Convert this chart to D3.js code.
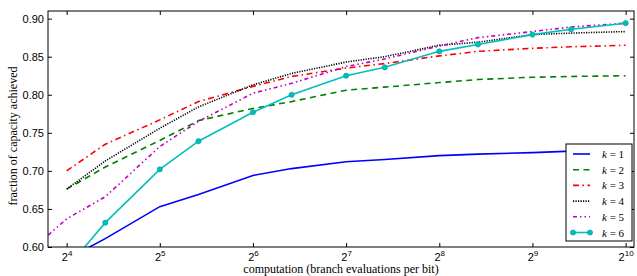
<!DOCTYPE html>
<html>
<head>
<meta charset="utf-8">
<script src="https://cdn.jsdelivr.net/npm/d3@7"></script>
<style>
  body { margin: 0; background: #fff; }
  svg { display: block; font-family: "Liberation Serif", "DejaVu Serif", serif; }
</style>
</head>
<body>
<svg id="chart"></svg>
<script>
/**
 * Data.
 * x = computation (branch evaluations per bit), y = fraction of capacity.
 */
var xValues = [10.67, 16, 21.33, 32, 42.67, 64, 85.33, 128, 170.67, 256, 341.33, 512, 682.67, 1024];
var k1 = [null, 0.584, 0.611, 0.653, 0.669, 0.694, 0.703, 0.712, 0.715, 0.720, 0.722, 0.724, 0.726, 0.728];
var k2 = [null, 0.676, 0.705, 0.740, 0.766, 0.782, 0.791, 0.806, 0.810, 0.816, 0.820, 0.823, 0.824, 0.825];
var k3 = [null, 0.700, 0.735, 0.767, 0.791, 0.811, 0.824, 0.835, 0.841, 0.851, 0.857, 0.861, 0.863, 0.865];
var k4 = [null, 0.676, 0.713, 0.756, 0.784, 0.813, 0.828, 0.843, 0.850, 0.865, 0.869, 0.879, 0.881, 0.883];
var k5 = [0.574, 0.637, 0.666, 0.732, 0.765, 0.802, 0.815, 0.837, 0.847, 0.864, 0.875, 0.883, 0.889, 0.894];
var k6 = [null, 0.572, 0.632, 0.702, 0.739, 0.777, 0.800, 0.825, 0.836, 0.857, 0.866, 0.879, 0.886, 0.894];
var seriesLabels = ["1", "2", "3", "4", "5", "6"];
var xTicks = [16, 32, 64, 128, 256, 512, 1024];
var xTickExponents = ["4", "5", "6", "7", "8", "9", "10"];
var yTicks = [0.60, 0.65, 0.70, 0.75, 0.80, 0.85, 0.90];

var series = [
    {label: seriesLabels[0], values: k1, color: "#0000ff", dash: null, marker: false},
    {label: seriesLabels[1], values: k2, color: "#008000", dash: "6,4.5", marker: false},
    {label: seriesLabels[2], values: k3, color: "#ff0000", dash: "6,3.5,1.5,3.5", marker: false},
    {label: seriesLabels[3], values: k4, color: "#000000", dash: "1.2,1.3", marker: false},
    {label: seriesLabels[4], values: k5, color: "#bf00bf", dash: "4,3,1.5,3,1.5,3", marker: false},
    {label: seriesLabels[5], values: k6, color: "#00bfbf", dash: null, marker: true}
];

var w = 637;
var h = 276;
var margin = {top: 11, right: 3, bottom: 29, left: 48};
var width = w - margin.left - margin.right;
var height = h - margin.top - margin.bottom;

var svg = d3.select("#chart").attr("width", w).attr("height", h);
var g = svg.append("g")
    .attr("transform", "translate(" + margin.left + "," + margin.top + ")");

var x = d3.scaleLog().base(2)
    .domain([Math.pow(2, 3.8), Math.pow(2, 10.09)])
    .range([0, width]);
var y = d3.scaleLinear()
    .domain([0.6, 0.91])
    .range([height, 0]);

g.append("clipPath").attr("id", "clip")
    .append("rect").attr("width", width).attr("height", height);

// Lines
var line = d3.line()
    .defined(function(d) { return d[1] !== null; })
    .x(function(d) { return x(d[0]); })
    .y(function(d) { return y(d[1]); });

var plot = g.append("g").attr("clip-path", "url(#clip)");
series.forEach(function(s) {
    var pts = xValues.map(function(xv, i) { return [xv, s.values[i]]; });
    plot.append("path")
        .datum(pts)
        .attr("fill", "none")
        .attr("stroke", s.color)
        .attr("stroke-width", 1.6)
        .attr("stroke-dasharray", s.dash)
        .attr("d", line);
    if (s.marker) {
        plot.selectAll(null)
            .data(pts.filter(function(d) { return d[1] !== null; }))
            .enter().append("circle")
            .attr("cx", function(d) { return x(d[0]); })
            .attr("cy", function(d) { return y(d[1]); })
            .attr("r", 2.6)
            .attr("fill", s.color)
            .attr("stroke", "#009a9a")
            .attr("stroke-width", 0.6);
    }
});

// Axes: ticks point inward on all four sides
var styleAxis = function(sel) {
    sel.select(".domain").remove();
    sel.selectAll(".tick line").attr("stroke", "#000").attr("stroke-width", 1);
};

var xAxis = g.append("g")
    .attr("transform", "translate(0," + height + ")")
    .call(d3.axisBottom(x).tickValues(xTicks).tickSize(-4).tickPadding(7).tickFormat(""))
    .call(styleAxis);

xAxis.selectAll(".tick text").each(function(d, i) {
    var t = d3.select(this)
        .attr("fill", "#000")
        .attr("font-size", 11)
        .attr("y", 14)
        .attr("dy", 0)
        .attr("text-anchor", "middle");
    t.append("tspan").text("2");
    t.append("tspan").attr("dy", -5).attr("font-size", 8).text(xTickExponents[i]);
});

g.append("g")
    .call(d3.axisTop(x).tickValues(xTicks).tickSize(-4).tickFormat(""))
    .call(styleAxis);

g.append("g")
    .call(d3.axisLeft(y).tickValues(yTicks).tickSize(-4).tickPadding(4).tickFormat(d3.format(".2f")))
    .call(styleAxis)
    .selectAll(".tick text")
    .attr("fill", "#000")
    .attr("font-size", 11);

g.append("g")
    .attr("transform", "translate(" + width + ",0)")
    .call(d3.axisRight(y).tickValues(yTicks).tickSize(-4).tickFormat(""))
    .call(styleAxis);

g.append("rect")
    .attr("width", width)
    .attr("height", height)
    .attr("fill", "none")
    .attr("stroke", "#000")
    .attr("stroke-width", 1);

// Axis labels
svg.append("text")
    .attr("x", margin.left + width / 2)
    .attr("y", 273)
    .attr("text-anchor", "middle")
    .attr("font-size", 12)
    .text("computation (branch evaluations per bit)");

svg.append("text")
    .attr("transform", "translate(17," + (margin.top + height / 2 + 7) + ") rotate(-90)")
    .attr("text-anchor", "middle")
    .attr("font-size", 12)
    .text("fraction of capacity achieved");

// Legend
var legend = svg.append("g").attr("transform", "translate(566,144)");
legend.append("rect")
    .attr("width", 66)
    .attr("height", 97)
    .attr("fill", "#fff")
    .attr("stroke", "#000")
    .attr("stroke-width", 1);

var item = legend.selectAll(".item")
    .data(series)
    .enter().append("g")
    .attr("class", "item")
    .attr("transform", function(d, i) { return "translate(0," + (10 + i * 15.7) + ")"; });

item.append("line")
    .attr("x1", 7).attr("x2", 24)
    .attr("stroke", function(d) { return d.color; })
    .attr("stroke-width", 1.6)
    .attr("stroke-dasharray", function(d) { return d.dash; });

item.filter(function(d) { return d.marker; })
    .selectAll("circle")
    .data([7, 24])
    .enter().append("circle")
    .attr("cx", function(d) { return d; })
    .attr("r", 2.6)
    .attr("fill", "#00bfbf")
    .attr("stroke", "#009a9a")
    .attr("stroke-width", 0.6);

var lt = item.append("text")
    .attr("x", 36)
    .attr("y", 4)
    .attr("font-size", 11)
    .attr("fill", "#000");
lt.append("tspan").attr("font-style", "italic").text("k");
lt.append("tspan").text(function(d) { return " = " + d.label; });
</script>
</body>
</html>
